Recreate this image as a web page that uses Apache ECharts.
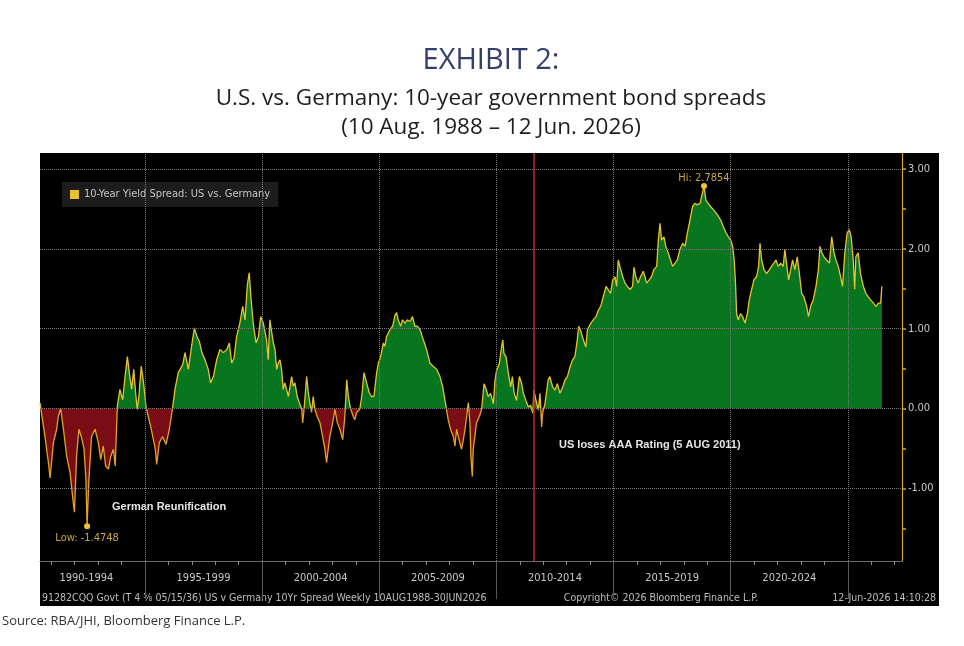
<!DOCTYPE html>
<html lang="en">
<head>
<meta charset="UTF-8">
<script src="https://cdn.jsdelivr.net/npm/echarts@6/dist/echarts.min.js"></script>
<style>
  html, body { margin: 0; padding: 0; background: #fff; }
  #main { width: 964px; height: 646px; }
</style>
</head>
<body>
<div id="main"></div>
<script>
// weekly spread (decimal years / percentage points)
var weeks = [
  1990.52, 1990.73, 1990.88, 1990.95, 1991.09, 1991.23, 1991.30, 1991.40, 1991.52, 1991.66,
  1991.80, 1991.94, 1991.99, 1992.08, 1992.18, 1992.28, 1992.40, 1992.48, 1992.53, 1992.60,
  1992.72, 1992.87, 1993.01, 1993.11, 1993.22, 1993.32, 1993.44, 1993.54, 1993.65, 1993.73,
  1993.82, 1993.93, 1994.05, 1994.15, 1994.25, 1994.33, 1994.43, 1994.52, 1994.60, 1994.67,
  1994.74, 1994.84, 1994.94, 1995.04, 1995.14, 1995.24, 1995.36, 1995.44, 1995.50, 1995.61,
  1995.75, 1995.90, 1996.04, 1996.17, 1996.28, 1996.42, 1996.61, 1996.71, 1996.85, 1996.99,
  1997.11, 1997.22, 1997.32, 1997.43, 1997.56, 1997.70, 1997.80, 1997.92, 1998.06, 1998.20,
  1998.34, 1998.49, 1998.60, 1998.70, 1998.80, 1998.91, 1999.05, 1999.17, 1999.27, 1999.37,
  1999.45, 1999.52, 1999.62, 1999.74, 1999.84, 1999.94, 2000.05, 2000.19, 2000.26, 2000.33,
  2000.41, 2000.48, 2000.55, 2000.62, 2000.69, 2000.76, 2000.83, 2000.90, 2000.97, 2001.12,
  2001.26, 2001.33, 2001.40, 2001.50, 2001.59, 2001.69, 2001.73, 2001.79, 2001.90, 2001.97,
  2002.04, 2002.11, 2002.18, 2002.25, 2002.35, 2002.47, 2002.58, 2002.68, 2002.75, 2002.82,
  2002.89, 2003.01, 2003.11, 2003.21, 2003.32, 2003.44, 2003.53, 2003.61, 2003.68, 2003.78,
  2003.89, 2003.96, 2004.03, 2004.17, 2004.25, 2004.35, 2004.46, 2004.57, 2004.67, 2004.77,
  2004.89, 2004.96, 2005.06, 2005.17, 2005.24, 2005.31, 2005.46, 2005.57, 2005.67, 2005.74,
  2005.81, 2005.91, 2005.99, 2006.10, 2006.20, 2006.31, 2006.42, 2006.52, 2006.62, 2006.74,
  2006.88, 2007.02, 2007.16, 2007.30, 2007.45, 2007.59, 2007.70, 2007.80, 2007.87, 2007.94,
  2008.04, 2008.16, 2008.23, 2008.30, 2008.37, 2008.44, 2008.51, 2008.59, 2008.66, 2008.73,
  2008.80, 2008.87, 2008.91, 2008.97, 2009.01, 2009.08, 2009.15, 2009.27, 2009.37, 2009.47,
  2009.55, 2009.65, 2009.75, 2009.87, 2009.94, 2010.01, 2010.12, 2010.22, 2010.27, 2010.32,
  2010.41, 2010.51, 2010.61, 2010.68, 2010.76, 2010.86, 2010.98, 2011.08, 2011.15, 2011.26,
  2011.36, 2011.46, 2011.55, 2011.60, 2011.69, 2011.79, 2011.86, 2011.93, 2011.97, 2012.07,
  2012.21, 2012.28, 2012.40, 2012.50, 2012.60, 2012.71, 2012.83, 2012.93, 2013.03, 2013.14,
  2013.25, 2013.35, 2013.45, 2013.51, 2013.59, 2013.71, 2013.82, 2013.88, 2013.99, 2014.13,
  2014.25, 2014.35, 2014.45, 2014.56, 2014.68, 2014.77, 2014.87, 2014.96, 2015.06, 2015.13,
  2015.20, 2015.27, 2015.39, 2015.49, 2015.59, 2015.70, 2015.81, 2015.87, 2015.95, 2016.05,
  2016.15, 2016.27, 2016.34, 2016.41, 2016.52, 2016.62, 2016.72, 2016.84, 2016.91, 2016.98,
  2017.05, 2017.15, 2017.23, 2017.33, 2017.43, 2017.52, 2017.62, 2017.72, 2017.83, 2017.95,
  2018.05, 2018.15, 2018.26, 2018.37, 2018.47, 2018.57, 2018.69, 2018.76, 2018.86, 2018.94,
  2019.04, 2019.14, 2019.26, 2019.37, 2019.47, 2019.57, 2019.68, 2019.80, 2019.90, 2020.00,
  2020.08, 2020.15, 2020.21, 2020.25, 2020.32, 2020.42, 2020.51, 2020.61, 2020.71, 2020.79,
  2020.89, 2020.99, 2021.10, 2021.19, 2021.25, 2021.32, 2021.42, 2021.53, 2021.65, 2021.74,
  2021.84, 2021.93, 2022.03, 2022.13, 2022.24, 2022.31, 2022.39, 2022.47, 2022.56, 2022.64,
  2022.74, 2022.84, 2022.93, 2023.03, 2023.12, 2023.24, 2023.32, 2023.41, 2023.52, 2023.64,
  2023.74, 2023.81, 2023.89, 2023.98, 2024.09, 2024.21, 2024.31, 2024.41, 2024.49, 2024.59,
  2024.69, 2024.77, 2024.87, 2024.97, 2025.06, 2025.14, 2025.23, 2025.29, 2025.34, 2025.44,
  2025.54, 2025.66, 2025.77, 2025.87, 2025.97, 2026.09, 2026.20, 2026.30, 2026.40, 2026.45
];
var spread = [
  0.07, -0.35, -0.68, -0.87, -0.43, -0.26, -0.10, 0.00, -0.26, -0.60,
  -0.80, -1.18, -1.30, -0.60, -0.26, -0.35, -0.51, -0.89, -1.4748, -0.93,
  -0.35, -0.26, -0.43, -0.64, -0.47, -0.72, -0.76, -0.60, -0.51, -0.72,
  0.03, 0.24, 0.11, 0.40, 0.65, 0.45, 0.24, 0.49, 0.20, -0.01,
  0.15, 0.53, 0.32, 0.03, -0.10, -0.22, -0.39, -0.51, -0.70, -0.43,
  -0.35, -0.45, -0.26, -0.01, 0.24, 0.45, 0.55, 0.70, 0.49, 0.78,
  1.01, 0.90, 0.84, 0.70, 0.61, 0.49, 0.32, 0.40, 0.61, 0.74,
  0.70, 0.74, 0.82, 0.57, 0.63, 0.90, 1.07, 1.28, 1.11, 1.55,
  1.70, 1.40, 1.07, 0.82, 0.90, 1.15, 1.07, 0.86, 0.61, 1.11,
  1.11, 0.82, 0.74, 0.49, 0.57, 0.61, 0.49, 0.24, 0.32, 0.15,
  0.40, 0.28, 0.32, 0.15, 0.07, -0.01, -0.18, -0.01, 0.40, 0.20,
  0.07, -0.05, 0.15, -0.01, -0.10, -0.18, -0.35, -0.51, -0.68, -0.51,
  -0.35, -0.18, -0.01, -0.18, -0.26, -0.39, -0.10, 0.36, 0.15, -0.01,
  -0.10, -0.14, -0.05, -0.01, 0.15, 0.45, 0.32, 0.20, 0.15, 0.15,
  0.45, 0.57, 0.65, 0.82, 0.78, 0.90, 0.99, 1.03, 1.17, 1.20,
  1.11, 1.03, 1.11, 1.07, 1.11, 1.09, 1.15, 1.03, 1.03, 0.99,
  0.86, 0.74, 0.57, 0.53, 0.49, 0.40, 0.28, 0.11, -0.01, -0.14,
  -0.26, -0.35, -0.47, -0.26, -0.35, -0.43, -0.51, -0.39, -0.26, -0.10,
  0.07, -0.18, -0.60, -0.85, -0.51, -0.35, -0.18, -0.10, -0.01, 0.31,
  0.25, 0.15, 0.19, 0.06, 0.36, 0.48, 0.56, 0.77, 0.86, 0.69,
  0.65, 0.44, 0.27, 0.40, 0.19, 0.10, 0.40, 0.31, 0.19, 0.10,
  0.02, 0.04, -0.06, 0.23, 0.10, -0.02, 0.19, -0.23, -0.06, 0.06,
  0.36, 0.40, 0.27, 0.23, 0.31, 0.19, 0.27, 0.36, 0.40, 0.52,
  0.61, 0.65, 0.86, 1.03, 0.98, 0.86, 0.77, 0.98, 1.05, 1.11,
  1.15, 1.23, 1.28, 1.40, 1.53, 1.49, 1.44, 1.61, 1.65, 1.53,
  1.86, 1.78, 1.65, 1.57, 1.53, 1.49, 1.53, 1.77, 1.65, 1.57,
  1.65, 1.72, 1.65, 1.57, 1.61, 1.65, 1.74, 1.78, 2.11, 2.32,
  2.11, 2.15, 2.03, 1.95, 1.86, 1.78, 1.82, 1.86, 1.99, 2.07,
  2.03, 2.20, 2.36, 2.53, 2.57, 2.55, 2.57, 2.66, 2.7854, 2.61,
  2.57, 2.53, 2.49, 2.45, 2.41, 2.36, 2.28, 2.20, 2.15, 2.11,
  2.03, 1.86, 1.53, 1.19, 1.11, 1.19, 1.15, 1.07, 1.19, 1.36,
  1.49, 1.61, 1.65, 1.78, 2.07, 1.86, 1.74, 1.69, 1.74, 1.78,
  1.82, 1.86, 1.78, 1.82, 1.78, 1.99, 1.99, 1.61, 1.74, 1.86,
  1.74, 1.90, 1.69, 1.44, 1.40, 1.28, 1.15, 1.28, 1.36, 1.53,
  1.74, 2.03, 1.95, 1.90, 1.86, 1.82, 2.15, 1.95, 1.86, 1.78,
  1.65, 1.53, 1.95, 2.20, 2.24, 2.15, 1.86, 1.49, 1.90, 1.95,
  1.69, 1.53, 1.44, 1.40, 1.36, 1.32, 1.28, 1.32, 1.32, 1.53
];

var periodMids = [1992.5, 1997.5, 2002.5, 2007.5, 2012.5, 2017.5, 2022.5];
var periodLabels = ['1990-1994', '1995-1999', '2000-2004', '2005-2009', '2010-2014', '2015-2019', '2020-2024'];
var periodBreaks = [1995, 2000, 2005, 2010, 2015, 2020, 2025];
var yearTicks = [1991, 1992, 1993, 1994, 1995, 1996, 1997, 1998, 1999, 2000, 2001, 2002, 2003,
  2004, 2005, 2006, 2007, 2008, 2009, 2010, 2011, 2012, 2013, 2014, 2015, 2016, 2017, 2018,
  2019, 2020, 2021, 2022, 2023, 2024, 2025, 2026, 2027];
var yLabels = [-1, 0, 1, 2, 3];
var yTicks = [-1.5, -1, -0.5, 0, 0.5, 1, 1.5, 2, 2.5, 3];
var aaaDowngrade = 2011.59;

var seriesName = '10-Year Yield Spread: US vs. Germany';
var bbFont = '"Liberation Sans Narrow", "DejaVu Sans Condensed", "Liberation Sans", sans-serif';
var pts = weeks.map(function (w, i) { return [w, spread[i]]; });

var gridMarks = periodBreaks.map(function (v) { return { xAxis: v }; })
  .concat(yLabels.map(function (v) { return { yAxis: v }; }));
gridMarks.push({ xAxis: aaaDowngrade, lineStyle: { color: '#c42a2a', type: 'solid', width: 1.5 } });

// split colours at zero (finite pieces so the gradient has stops)
function zeroSplit(idx, below, above) {
  return {
    type: 'piecewise', show: false, seriesIndex: idx, dimension: 1,
    pieces: [
      { lt: -5, color: below },
      { gte: -5, lt: 0, color: below },
      { gte: 0, lt: 5, color: above },
      { gte: 5, color: above }
    ]
  };
}

var myChart = echarts.init(document.getElementById('main'));
var option = {
  backgroundColor: '#fff',
  animation: false,
  grid: { left: 40, right: 62, top: 153, bottom: 85 },
  legend: {
    data: [seriesName],
    left: 62, top: 182,
    backgroundColor: '#1c1c1c',
    padding: [7, 8, 7, 8],
    icon: 'rect', itemWidth: 9, itemHeight: 9,
    selectedMode: false,
    textStyle: { color: '#c4c4c4', fontSize: 11, fontFamily: bbFont }
  },
  visualMap: [
    zeroSplit(0, '#7a0c16', '#08751f'),
    zeroSplit(1, '#e3a126', '#e8c22c')
  ],
  xAxis: [{
    type: 'value', min: 1990.52, max: 2027.31,
    axisLine: { show: true, onZero: false, lineStyle: { color: '#6a6a6a' } },
    axisTick: { show: true, customValues: yearTicks, length: 4, lineStyle: { color: '#8a8a8a' } },
    axisLabel: {
      customValues: periodMids, color: '#c8c8c8', fontSize: 11, fontFamily: bbFont, margin: 12,
      formatter: function (v) { var i = periodMids.indexOf(v); return i < 0 ? '' : periodLabels[i]; }
    },
    splitLine: { show: false }
  }, {
    type: 'value', min: 1990.52, max: 2027.31, position: 'bottom',
    axisLine: { show: false, onZero: false },
    axisTick: { show: true, customValues: periodBreaks, length: 38, lineStyle: { color: '#5a5a5a' } },
    axisLabel: { show: false },
    splitLine: { show: false }
  }],
  yAxis: {
    type: 'value', position: 'right', min: -1.91, max: 3.2,
    axisLine: { show: true, onZero: false, lineStyle: { color: '#d2a72c', width: 1.2 } },
    axisTick: { show: true, customValues: yTicks, length: 4, lineStyle: { color: '#d2a72c', width: 1.5 } },
    axisLabel: {
      customValues: yLabels, color: '#c8c8c8', fontSize: 11, fontFamily: bbFont, margin: 6,
      formatter: function (v) { return v.toFixed(2); }
    },
    splitLine: { show: false }
  },
  series: [{
    name: 'fill', type: 'line', data: pts, showSymbol: false, silent: true,
    lineStyle: { width: 0 },
    areaStyle: { opacity: 1 },
    markLine: {
      silent: true, symbol: ['none', 'none'], label: { show: false },
      lineStyle: { color: '#7a7a7a', type: 'dotted', width: 1 },
      data: gridMarks
    }
  }, {
    name: seriesName, type: 'line', data: pts, showSymbol: false, silent: true,
    color: '#e8c22c',
    lineStyle: { width: 1.3 },
    markPoint: {
      symbol: 'circle', symbolSize: 6, itemStyle: { color: '#f0c430' },
      data: [
        { type: 'min', name: 'Low', label: { position: 'bottom', distance: 3 } },
        { type: 'max', name: 'Hi', label: { position: 'top', distance: -1 } }
      ],
      label: {
        color: '#c9a441', fontSize: 11, fontFamily: bbFont,
        formatter: function (p) { return p.name + ': ' + p.value; }
      }
    }
  }],
  graphic: [
    { type: 'rect', z: -100, shape: { x: 40, y: 153, width: 899, height: 453 }, style: { fill: '#000' } },
    { type: 'text', x: 491, y: 61, style: { text: 'EXHIBIT 2:', fill: '#33406b', font: '29px "Open Sans"', align: 'center', verticalAlign: 'middle' } },
    { type: 'text', x: 491, y: 99, style: { text: 'U.S. vs. Germany: 10-year government bond spreads', fill: '#1e1e1e', font: '22.5px "Open Sans"', align: 'center', verticalAlign: 'middle' } },
    { type: 'text', x: 491, y: 128, style: { text: '(10 Aug. 1988 \u2013 12 Jun. 2026)', fill: '#1e1e1e', font: '22.5px "Open Sans"', align: 'center', verticalAlign: 'middle' } },
    { type: 'text', x: 112, y: 507, style: { text: 'German Reunification', fill: '#e6e6e6', font: 'bold 11px "Liberation Sans"', verticalAlign: 'middle' } },
    { type: 'text', x: 559, y: 445, style: { text: 'US loses AAA Rating (5 AUG 2011)', fill: '#e6e6e6', font: 'bold 11px "Liberation Sans"', verticalAlign: 'middle' } },
    { type: 'text', x: 42, y: 598, style: { text: '91282CQQ Govt (T 4 \u215d 05/15/36) US v Germany 10Yr Spread Weekly 10AUG1988-30JUN2026', fill: '#bdbdbd', font: '10.5px ' + bbFont, verticalAlign: 'middle' } },
    { type: 'text', x: 661, y: 598, style: { text: 'Copyright\u00a9 2026 Bloomberg Finance L.P.', fill: '#bdbdbd', font: '10.5px ' + bbFont, align: 'center', verticalAlign: 'middle' } },
    { type: 'text', x: 936, y: 598, style: { text: '12-Jun-2026 14:10:28', fill: '#bdbdbd', font: '10.5px ' + bbFont, align: 'right', verticalAlign: 'middle' } },
    { type: 'text', x: 2, y: 621, style: { text: 'Source: RBA/JHI, Bloomberg Finance L.P.', fill: '#333', font: '13px "Open Sans"', verticalAlign: 'middle' } }
  ]
};
myChart.setOption(option);
</script>
</body>
</html>
